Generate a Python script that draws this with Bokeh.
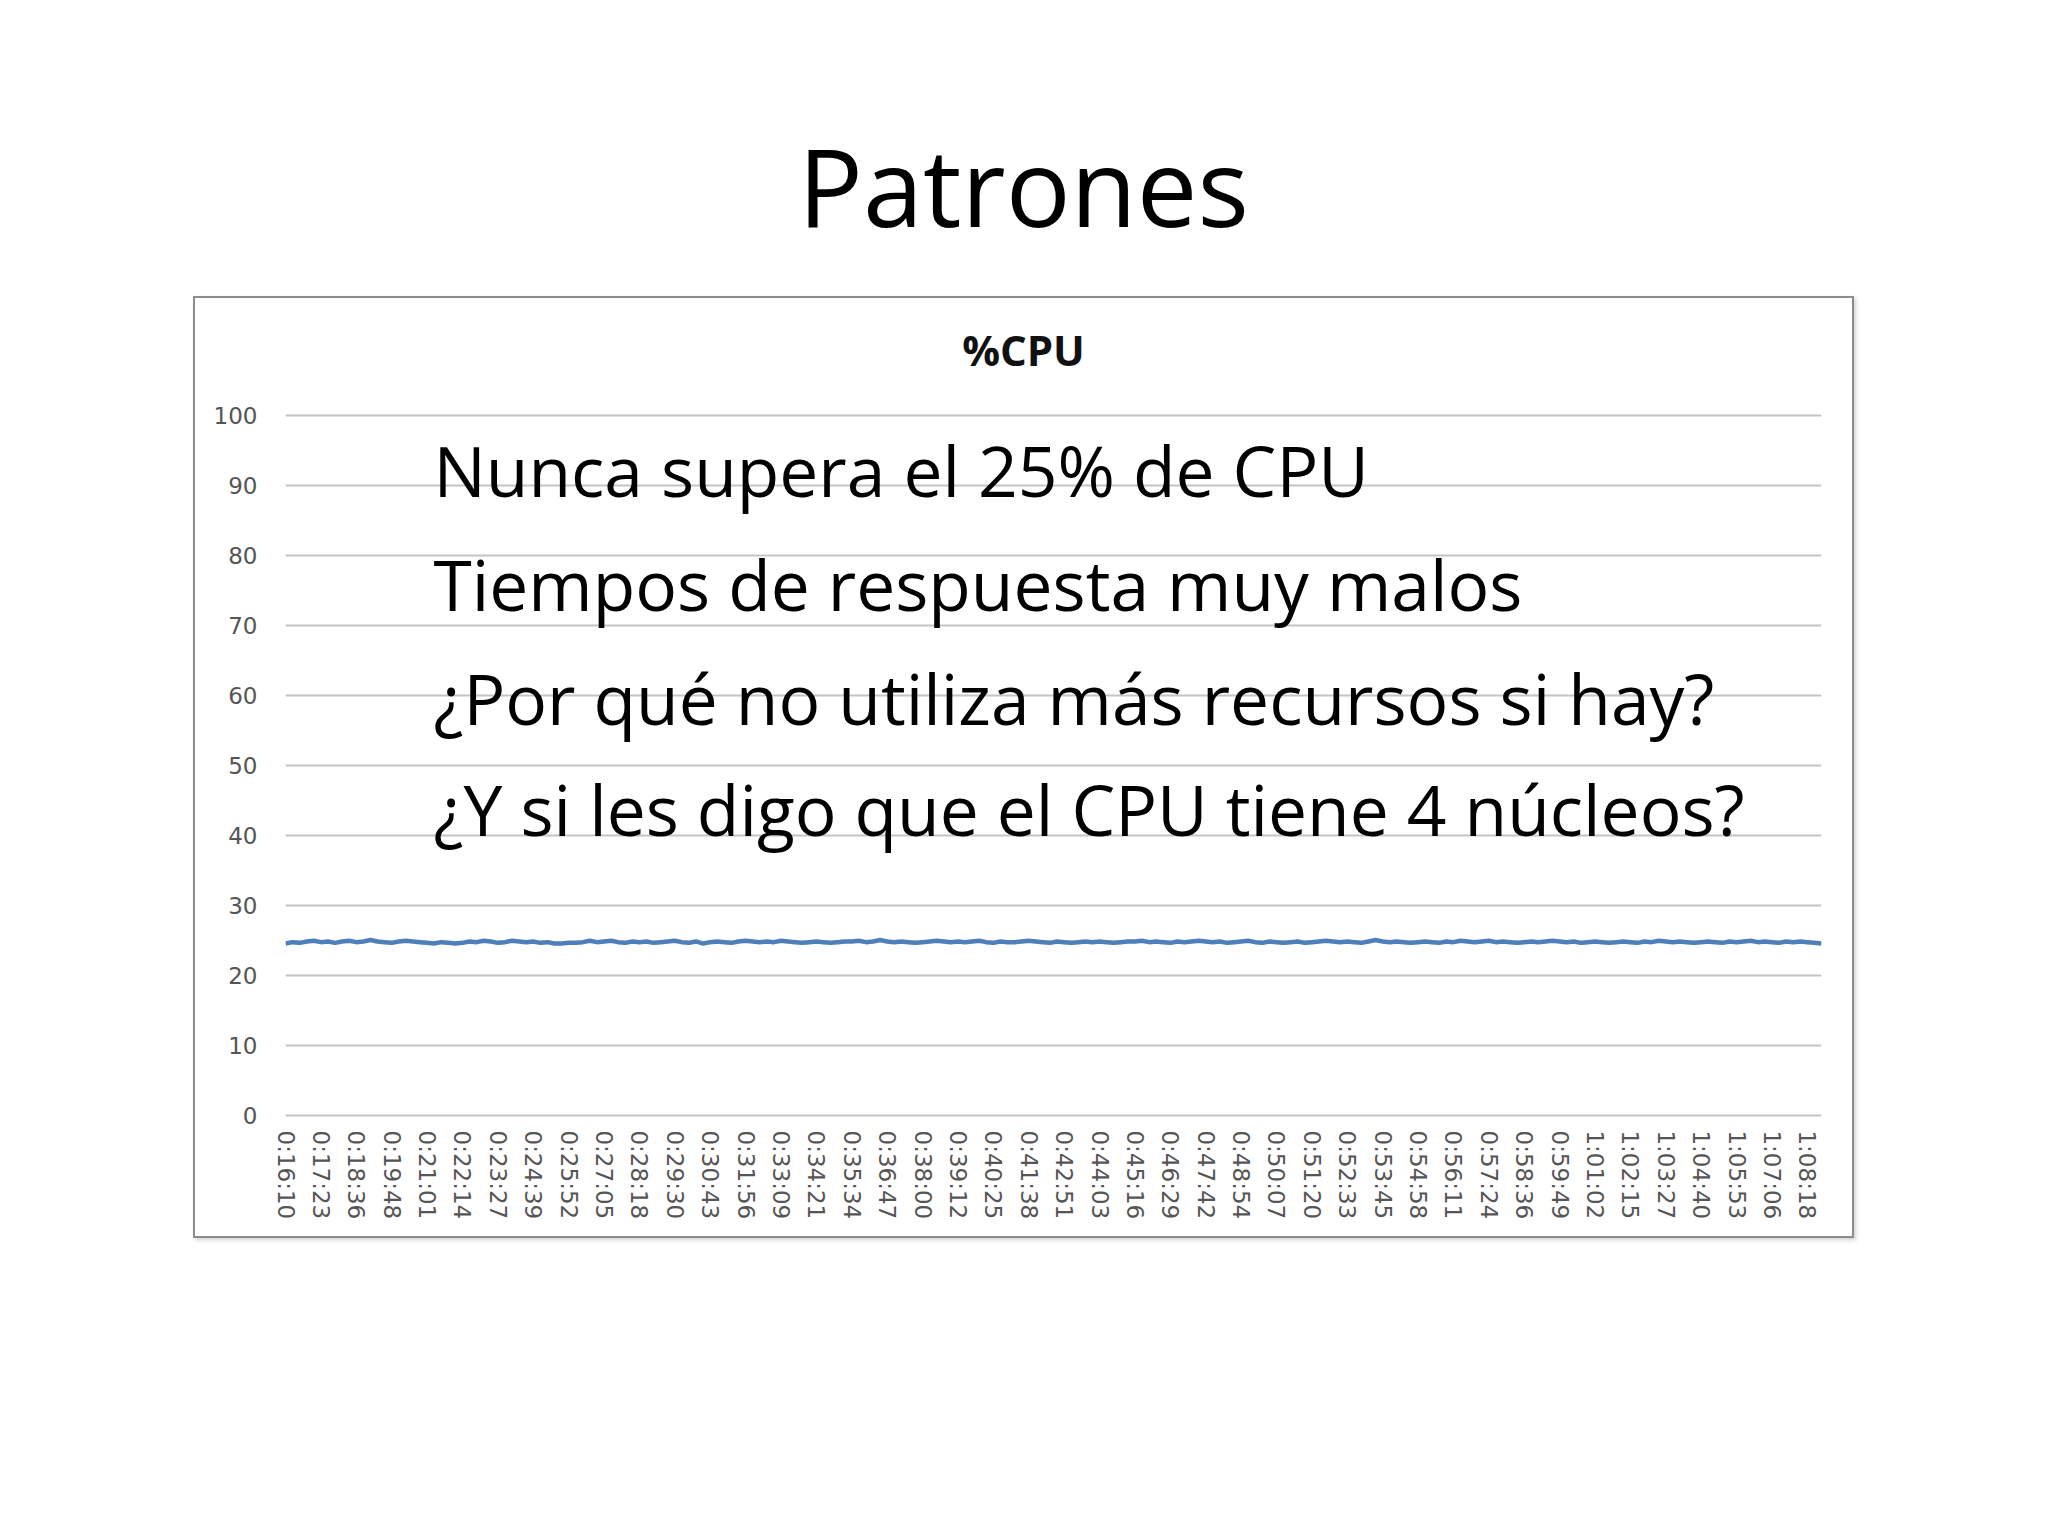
from bokeh.plotting import figure
from bokeh.layouts import column
from bokeh.models import Range1d, FixedTicker, Label, ColumnDataSource
from bokeh.embed import file_html
from bokeh.resources import INLINE

# ---------------- data ----------------
slide_title = "Patrones"
chart_title = "%CPU"
notes = [
    "Nunca supera el 25% de CPU",
    "Tiempos de respuesta muy malos",
    "¿Por qué no utiliza más recursos si hay?",
    "¿Y si les digo que el CPU tiene 4 núcleos?",
]
time_labels = [
    "0:16:10", "0:17:23", "0:18:36", "0:19:48", "0:21:01", "0:22:14", "0:23:27", "0:24:39",
    "0:25:52", "0:27:05", "0:28:18", "0:29:30", "0:30:43", "0:31:56", "0:33:09", "0:34:21",
    "0:35:34", "0:36:47", "0:38:00", "0:39:12", "0:40:25", "0:41:38", "0:42:51", "0:44:03",
    "0:45:16", "0:46:29", "0:47:42", "0:48:54", "0:50:07", "0:51:20", "0:52:33", "0:53:45",
    "0:54:58", "0:56:11", "0:57:24", "0:58:36", "0:59:49", "1:01:02", "1:02:15", "1:03:27",
    "1:04:40", "1:05:53", "1:07:06", "1:08:18",
]
label_every = 5
y_ticks = [0, 10, 20, 30, 40, 50, 60, 70, 80, 90, 100]
cpu = [
    24.6, 24.8, 24.7, 24.9, 25.0, 24.8, 24.9, 24.7, 24.9, 25.0,
    24.8, 24.9, 25.1, 24.9, 24.8, 24.7, 24.9, 25.0, 24.9, 24.8,
    24.7, 24.6, 24.8, 24.7, 24.6, 24.7, 24.9, 24.8, 25.0, 24.9,
    24.7, 24.8, 25.0, 24.9, 24.8, 24.9, 24.7, 24.8, 24.6, 24.6,
    24.7, 24.7, 24.8, 25.0, 24.8, 24.9, 25.0, 24.8, 24.7, 24.9,
    24.8, 24.9, 24.7, 24.8, 24.9, 25.0, 24.8, 24.7, 24.9, 24.6,
    24.8, 24.9, 24.8, 24.7, 24.9, 25.0, 24.9, 24.8, 24.9, 24.8,
    25.0, 24.9, 24.8, 24.7, 24.8, 24.9, 24.8, 24.7, 24.8, 24.9,
    24.9, 25.0, 24.8, 24.9, 25.1, 24.9, 24.8, 24.9, 24.8, 24.7,
    24.8, 24.9, 25.0, 24.9, 24.8, 24.9, 24.8, 24.9, 25.0, 24.8,
    24.7, 24.9, 24.8, 24.8, 24.9, 25.0, 24.9, 24.8, 24.7, 24.9,
    24.8, 24.7, 24.8, 24.9, 24.8, 24.9, 24.8, 24.7, 24.8, 24.9,
    24.9, 25.0, 24.8, 24.9, 24.8, 24.7, 24.9, 24.8, 24.9, 25.0,
    24.9, 24.8, 24.9, 24.7, 24.8, 24.9, 25.0, 24.8, 24.7, 24.9,
    24.8, 24.7, 24.8, 24.9, 24.7, 24.8, 24.9, 25.0, 24.9, 24.8,
    24.9, 24.8, 24.7, 24.9, 25.1, 24.9, 24.8, 24.9, 24.8, 24.7,
    24.8, 24.9, 24.8, 24.7, 24.9, 24.8, 25.0, 24.9, 24.8, 24.9,
    25.0, 24.8, 24.9, 24.8, 24.7, 24.8, 24.9, 24.8, 24.9, 25.0,
    24.9, 24.8, 24.9, 24.7, 24.8, 24.9, 24.8, 24.7, 24.8, 24.9,
    24.8, 24.7, 24.9, 24.8, 25.0, 24.9, 24.8, 24.9, 24.8, 24.7,
    24.8, 24.9, 24.8, 24.7, 24.9, 24.8, 24.9, 25.0, 24.8, 24.9,
    24.8, 24.7, 24.9, 24.8, 24.9, 24.8, 24.7, 24.6,
]
idx = list(range(len(cpu)))

# ---------------- slide title strip ----------------
TW, TH = 2032, 298
tf = figure(width=TW, height=TH, output_backend="svg", toolbar_location=None,
            x_axis_location=None, y_axis_location=None,
            x_range=Range1d(0, 1), y_range=Range1d(0, 1),
            min_border=0)
tf.outline_line_color = None
tf.xgrid.visible = False
tf.ygrid.visible = False
tf.add_layout(Label(x=1023, y=185, x_units="canvas", y_units="canvas",
                    text=slide_title, text_align="center",
                    text_baseline="alphabetic", text_font="Open Sans",
                    text_font_size="108px", text_color="#000000"))

# ---------------- chart box ----------------
CX, CY = 195, 298          # top-left corner of the chart box on the page
CW, CH = 1657, 938         # size of the chart box
FL, FR, FT, FB = 90, 1626, 113, 821   # plot frame inside the chart box
XMAX = len(cpu) - 1

p = figure(width=CW, height=CH, output_backend="svg", toolbar_location=None,
           x_range=Range1d(0, XMAX), y_range=Range1d(-0.5, 100.5),
           min_border_left=FL, min_border_right=CW - FR,
           min_border_top=FT, min_border_bottom=CH - FB)
p.margin = (0, 0, 0, CX)
p.styles = {"box-shadow": "0 0 0 2px #8c8c8c, 2px 2px 4px 2px rgba(0,0,0,0.18)"}
p.outline_line_color = None
p.background_fill_color = "white"
p.border_fill_color = "white"

p.xaxis.ticker = FixedTicker(ticks=[i * label_every for i in range(len(time_labels))])
p.xaxis.major_label_overrides = {i * label_every: t for i, t in enumerate(time_labels)}
p.xaxis.major_label_orientation = "vertical"
p.xaxis.axis_line_color = None
p.xaxis.major_tick_line_color = None
p.xaxis.minor_tick_line_color = None
p.xaxis.major_label_standoff = 5
p.xaxis.major_label_text_font = "DejaVu Sans"
p.xaxis.major_label_text_font_size = "23px"
p.xaxis.major_label_text_color = "#555555"

p.yaxis.ticker = FixedTicker(ticks=y_ticks)
p.yaxis.axis_line_color = None
p.yaxis.major_tick_line_color = None
p.yaxis.minor_tick_line_color = None
p.yaxis.major_label_standoff = 22
p.yaxis.major_label_text_font = "DejaVu Sans"
p.yaxis.major_label_text_font_size = "23px"
p.yaxis.major_label_text_color = "#555555"

p.xgrid.grid_line_color = None
p.ygrid.grid_line_color = "#c4c4c4"
p.ygrid.grid_line_width = 2

src = ColumnDataSource(dict(x=idx, y=cpu))
p.line("x", "y", source=src, line_color="#4f7fbb", line_width=4.5)

# chart title
p.add_layout(Label(x=1023 - CX, y=349 - CY, x_units="canvas", y_units="canvas",
                   text=chart_title, text_align="center",
                   text_baseline="alphabetic", text_font="Open Sans", text_font_style="bold",
                   text_font_size="42px", text_color="#111111"), "above")

# overlay notes
baselines = [469, 583, 697, 808]
for t, b in zip(notes, baselines):
    p.add_layout(Label(x=433 - CX, y=b - CY, x_units="canvas", y_units="canvas",
                       text=t, text_align="left",
                       text_baseline="alphabetic", text_font="Open Sans",
                       text_font_size="69.5px", text_color="#000000"))

layout = column(tf, p)
open("out.html", "w").write(file_html(layout, INLINE))
